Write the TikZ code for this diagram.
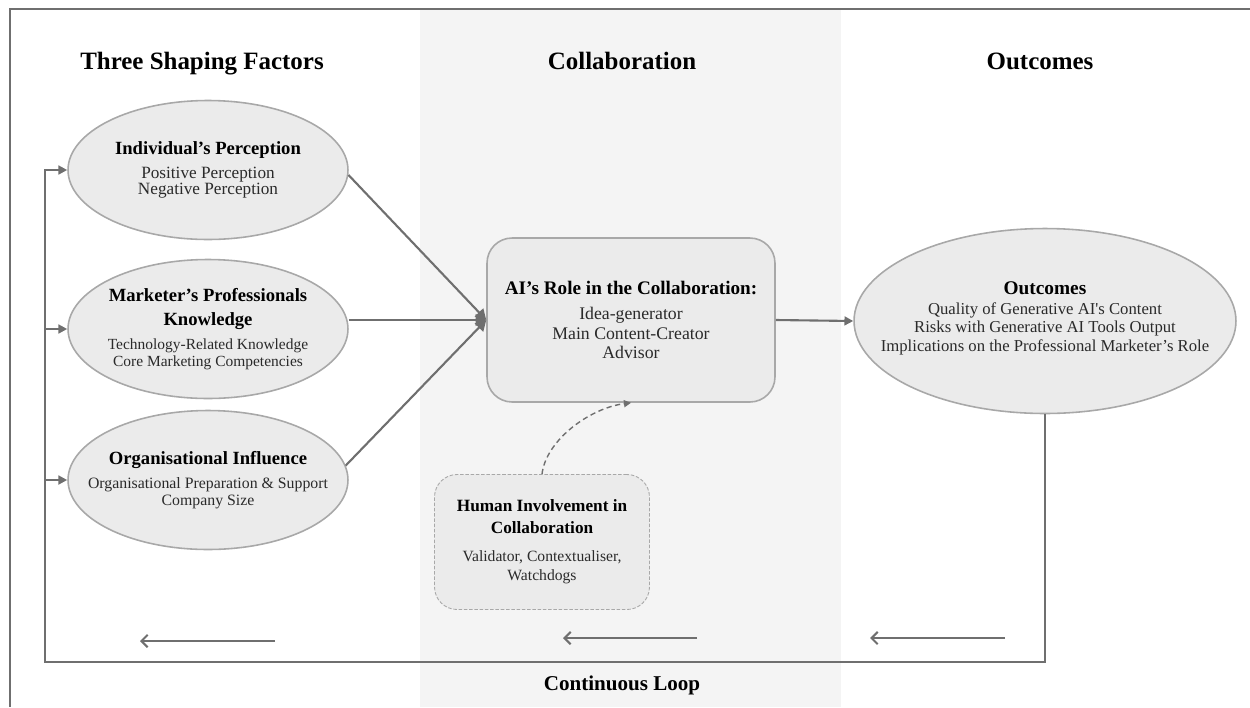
\documentclass[tikz,border=0pt]{standalone}
\usepackage{fontspec}
\setmainfont{Liberation Serif}
\usetikzlibrary{shapes.geometric,arrows.meta}

\definecolor{linegray}{HTML}{6F6F6F}
\definecolor{colfill}{HTML}{F4F4F4}
\definecolor{shapefill}{HTML}{EBEBEB}
\definecolor{shapeline}{HTML}{A8A8A8}
\definecolor{subtext}{HTML}{2A2A2A}

% bold heading line inside a node, size in pt
\newcommand{\hd}[1]{\fontsize{#1}{#1}\selectfont\bfseries\color{black}}

\begin{document}
\begin{tikzpicture}[
			x = 0.02cm, y = -0.02cm,
			colhead/.style = {font=\fontsize{14.2}{16}\selectfont\bfseries, anchor=base},
			factor/.style = {ellipse, draw=shapeline, fill=shapefill, line width=0.9pt,
				inner xsep=-0.8cm, inner ysep=0pt,
				minimum width=5.6cm, minimum height=2.78cm, align=center, text=subtext,
				font=\fontsize{9.6}{9.4}\selectfont},
			outcome/.style = {ellipse, draw=shapeline, fill=shapefill, line width=0.9pt,
				minimum width=7.64cm, minimum height=3.7cm},
			rolebox/.style = {rectangle, rounded corners=0.5cm, draw=shapeline, fill=shapefill, line width=0.9pt,
				minimum width=5.76cm, minimum height=3.28cm, align=center, text=subtext,
				font=\fontsize{10.1}{11.3}\selectfont},
			humanbox/.style = {rectangle, rounded corners=0.45cm, draw=shapeline, dash pattern=on 2pt off 1pt,
				fill=shapefill, line width=0.5pt, minimum width=4.3cm, minimum height=2.7cm, align=center,
				text=subtext, font=\fontsize{8.9}{10.8}\selectfont},
			link/.style = {draw=linegray, line width=1.2pt},
			feedback/.style = {draw=linegray, line width=1.6pt, -{Triangle[length=5pt,width=5pt]}},
			backarrow/.style = {draw=linegray, line width=1.2pt, -{Straight Barb[length=3.5pt,width=7pt]}}
			]

			\useasboundingbox (0,0) rectangle (1250,707);

			% middle column and frame
			\fill[colfill] (420,10) rectangle (841,707);
			\draw[draw=linegray, line width=1.6pt] (1250,9) -| (10,707);

			\node[colhead] (tFactors) at (202,69) {Three Shaping Factors};
			\node[colhead] (tCollab) at (622,69) {Collaboration};
			\node[colhead] (tOut) at (1040,69) {Outcomes};
			\node[colhead, font=\fontsize{12}{14}\selectfont\bfseries] (tLoop) at (622,690) {Continuous Loop};

			% three shaping factors
			\node[factor, font=\fontsize{9.8}{9.4}\selectfont] (ind) at (208,170)
				{{\hd{10.6}Individual’s Perception}\\[4.2pt] Positive Perception\\ Negative Perception};
			\node[factor, font=\fontsize{8.8}{9.4}\selectfont] (mkt) at (208,329)
				{{\hd{10.6}Marketer’s Professionals}\\[4.2pt] {\hd{10.6}Knowledge}\\[4.2pt]
				Technology-Related Knowledge\\ Core Marketing Competencies};
			\node[factor, font=\fontsize{9}{9.4}\selectfont] (org) at (208,480)
				{{\hd{10.6}Organisational Influence}\\[4.2pt] Organisational Preparation \& Support\\ Company Size};

			% collaboration
			\node[rolebox] (ai) at (631,320) {{\hd{10.9}AI’s Role in the Collaboration:}\\[3pt]
				Idea-generator\\ Main Content-Creator\\ Advisor};
			\node[humanbox] (hum) at (542,542) {{\hd{9.8}Human Involvement in}\\[1.7pt]
				{\hd{9.8}Collaboration}\\[5pt] Validator, Contextualiser,\\ Watchdogs};

			% outcomes (text set apart so the ellipse keeps its size)
			\node[outcome] (outE) at (1045,321) {};
			\node[align=center, text=subtext, font=\fontsize{9.5}{10.5}\selectfont] (outT) at (1045,318)
				{{\hd{11}Outcomes}\\[0.8pt] Quality of Generative AI\textquotesingle s Content\\
				Risks with Generative AI Tools Output\\ Implications on the Professional Marketer’s Role};

			\draw[link, -{Triangle[length=6pt,width=6.5pt]}] (ind.-2) -- (ai.west);
			\draw[link, -{Triangle[length=6pt,width=6.5pt]}] (mkt.east |- ai.west) -- (ai.west);
			\draw[link, -{Triangle[length=6pt,width=6.5pt]}] (org.6) -- (ai.west);
			\draw[link, -{Triangle[length=5pt,width=5pt]}] (ai.east) -- (outE.west);

			\draw[draw=linegray, line width=0.8pt, dash pattern=on 3pt off 2pt, -{Triangle[length=4pt,width=4pt]}]
				(hum.north) .. controls (546,440) and (590,408) .. (ai.south);

			% continuous loop back to the factors
			\coordinate (loopL) at (45,662);
			\draw[feedback] (outE.south) |- (loopL) |- (ind.west);
			\draw[feedback] (loopL |- mkt.west) -- (mkt.west);
			\draw[feedback] (loopL |- org.west) -- (org.west);

			\foreach \a/\b/\y in {275/140/641, 697/563/638, 1005/870/638}
				\draw[backarrow] (\a,\y) -- (\b,\y);

		\end{tikzpicture}
\end{document}
